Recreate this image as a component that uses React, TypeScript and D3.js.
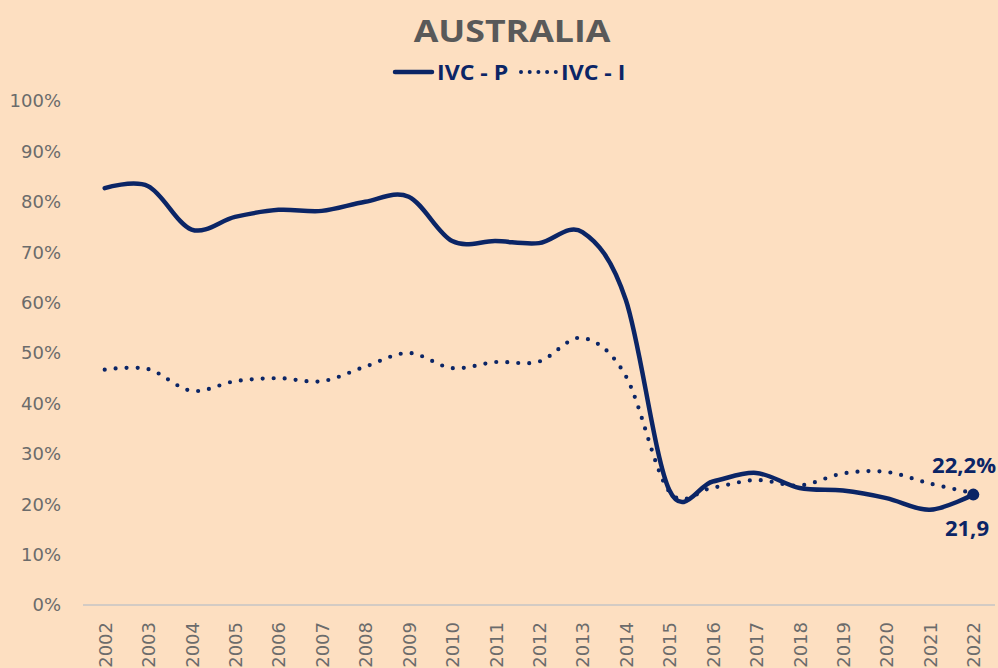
import React from "react";
import * as d3 from "d3";

const years = ["2002","2003","2004","2005","2006","2007","2008","2009","2010","2011","2012","2013","2014","2015","2016","2017","2018","2019","2020","2021","2022"];
const ivcP = [82.7, 83.1, 74.5, 77.0, 78.4, 78.2, 80.0, 81.0, 72.2, 72.2, 71.8, 74.0, 60.5, 22.8, 24.5, 26.2, 23.2, 22.7, 21.2, 18.9, 21.9];
const ivcI = [46.7, 46.8, 42.5, 44.4, 45.0, 44.4, 47.3, 50.0, 47.0, 48.2, 48.3, 53.0, 45.4, 22.5, 23.3, 24.8, 23.7, 26.1, 26.4, 24.1, 22.2];
const yTicks = [0, 10, 20, 30, 40, 50, 60, 70, 80, 90, 100];
const title = "AUSTRALIA";
const seriesNames = ["IVC - P", "IVC - I"];
const endLabelP = "21,9";
const endLabelI = "22,2%";

const W = 998, H = 668;
const BG = "#FDDFC1";
const NAVY = "#0B2566";
const GRAY = "#6B6B6B";
const SANS = "'Open Sans', sans-serif";

export default function App() {
  const x = d3.scaleBand<string>().domain(years).range([83, 995]);
  const cx = (d: string) => (x(d) as number) + x.bandwidth() / 2;
  const y = d3.scaleLinear().domain([0, 100]).range([605, 101]);
  const line = d3.line<number>()
    .x((_, i) => cx(years[i]))
    .y((v) => y(v))
    .curve(d3.curveCardinal.tension(0));
  const lastX = cx(years[years.length - 1]);
  const lastP = ivcP[ivcP.length - 1];

  return (
    <svg width={W} height={H} style={{ position: "absolute", left: 0, top: 0, display: "block" }}
      fontFamily="'DejaVu Sans', sans-serif">
      <rect x={0} y={0} width={W} height={H} fill={BG} />
      <g transform="translate(512,42) scale(1.19,1)">
        <text x={0} y={0} textAnchor="middle" fontFamily={SANS} fontWeight={700} fontSize={30} fill="#595959">{title}</text>
      </g>
      {/* legend */}
      <line x1={395} x2={432} y1={72} y2={72} stroke={NAVY} strokeWidth={4.5} strokeLinecap="round" />
      <g transform="translate(437,80) scale(1.1,1)">
        <text x={0} y={0} fontFamily={SANS} fontWeight={700} fontSize={21} fill={NAVY}>{seriesNames[0]}</text>
      </g>
      <line x1={521} x2={556} y1={72} y2={72} stroke={NAVY} strokeWidth={4} strokeLinecap="round" strokeDasharray="0 8.7" />
      <g transform="translate(561,80) scale(1.1,1)">
        <text x={0} y={0} fontFamily={SANS} fontWeight={700} fontSize={21} fill={NAVY}>{seriesNames[1]}</text>
      </g>
      {/* y axis labels */}
      {yTicks.map((t) => (
        <text key={t} x={61} y={y(t)} dy="0.36em" textAnchor="end" fontSize={18} fill={GRAY}>{t}%</text>
      ))}
      {/* x axis */}
      <line x1={83} x2={995} y1={y(0)} y2={y(0)} stroke="#C5C5C5" strokeWidth={1.5} />
      {years.map((yr) => (
        <text key={yr} transform={`translate(${cx(yr) + 7},622) rotate(-90)`} textAnchor="end" fontSize={18} fill={GRAY}>{yr}</text>
      ))}
      {/* series */}
      <path d={line(ivcI) || ""} fill="none" stroke={NAVY} strokeWidth={4.2} strokeLinecap="round" strokeDasharray="0 11" />
      <path d={line(ivcP) || ""} fill="none" stroke={NAVY} strokeWidth={4.5} strokeLinejoin="round" strokeLinecap="round" />
      <circle cx={lastX} cy={y(lastP)} r={6} fill={NAVY} />
      <g transform="translate(996,473) scale(1.05,1)">
        <text x={0} y={0} textAnchor="end" fontFamily={SANS} fontWeight={700} fontSize={21} fill={NAVY}>{endLabelI}</text>
      </g>
      <g transform="translate(989,536) scale(1.05,1)">
        <text x={0} y={0} textAnchor="end" fontFamily={SANS} fontWeight={700} fontSize={21} fill={NAVY}>{endLabelP}</text>
      </g>
    </svg>
  );
}
